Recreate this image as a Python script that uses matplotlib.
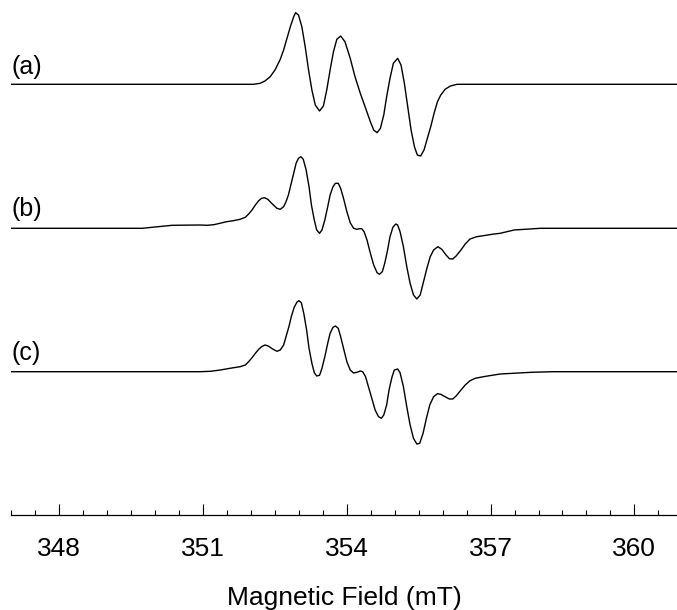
"""Stacked EPR spectra (a), (b), (c) against magnetic field."""

import matplotlib

matplotlib.use("Agg")
import matplotlib.pyplot as plt
from matplotlib.ticker import MultipleLocator

# Field in mT, signal in arbitrary units.
field_a = [347.0, 351.56, 352.05, 352.19, 352.29, 352.40, 352.50, 352.61, 352.68, 352.75,
           352.82, 352.89, 352.93, 352.99, 353.06, 353.13, 353.20, 353.27, 353.34, 353.43,
           353.51, 353.58, 353.65, 353.72, 353.79, 353.87, 353.96, 354.07, 354.17, 354.28,
           354.38, 354.49, 354.56, 354.63, 354.70, 354.77, 354.83, 354.90, 354.97, 355.06,
           355.13, 355.20, 355.27, 355.34, 355.41, 355.47, 355.54, 355.61, 355.68, 355.75,
           355.82, 355.89, 355.96, 356.05, 356.16, 356.30, 356.57, 360.9]
signal_a = [0, 0, 0, 1.0, 3.3, 7.6, 14.3, 25.0, 34.3, 46.0,
            57.6, 67.6, 71.6, 69.3, 57.6, 37.6, 14.3, -5.7, -20.7, -26.7,
            -21.7, -5.7, 14.3, 32.6, 45.0, 48.3, 42.6, 26.0, 7.6, -9.0,
            -22.4, -37.4, -45.7, -48.4, -44.0, -30.7, -12.4, 6.0, 21.0, 26.0,
            19.3, 1.0, -22.4, -45.7, -62.4, -70.7, -71.7, -65.7, -54.0, -42.4,
            -29.0, -17.4, -10.7, -5.0, -1.7, 0, 0, 0]

field_b = [347.0, 349.73, 350.35,
           350.94, 351.08, 351.22, 351.35, 351.49, 351.63, 351.77, 351.88, 351.95, 352.02,
           352.09, 352.16, 352.22, 352.28, 352.35, 352.43, 352.54, 352.61, 352.68, 352.73,
           352.78, 352.83, 352.89, 352.94, 352.99, 353.04, 353.09, 353.15, 353.21, 353.26,
           353.32, 353.37, 353.43, 353.48, 353.54, 353.60, 353.65, 353.71, 353.76, 353.82,
           353.87, 353.93, 354.00, 354.07, 354.14, 354.21, 354.26, 354.31, 354.36, 354.42,
           354.49, 354.56, 354.63, 354.68, 354.74, 354.79, 354.85, 354.90, 354.96, 355.02,
           355.06, 355.11, 355.18, 355.25, 355.32, 355.39, 355.46, 355.53, 355.60, 355.67,
           355.74, 355.81, 355.90, 355.98, 356.07, 356.14, 356.21, 356.28, 356.37, 356.47,
           356.57, 356.71, 356.85, 357.03, 357.20,
           357.49, 358.04, 360.9]
signal_b = [0, 0, 3.0,
            3.3, 3.0, 3.6, 5.0, 6.6, 7.6, 9.0, 11.0, 14.3, 18.3,
            23.3, 27.6, 30.0, 30.6, 29.0, 25.0, 20.0, 19.0, 21.6, 26.6,
            33.3, 43.3, 55.0, 65.0, 70.0, 71.6, 69.0, 58.3, 41.6, 23.3,
            8.3, -1.7, -5.0, -1.7, 8.3, 21.6, 33.3, 41.6, 45.0, 45.0,
            40.0, 30.0, 16.6, 5.6, 0.0, -1.0, -0.4, -0.4, -3.4, -11.7,
            -25.0, -36.7, -44.4, -46.0, -43.4, -35.0, -21.7, -8.4, 1.0, 4.3,
            3.3, -3.4, -18.4, -38.4, -55.0, -66.7, -70.7, -66.7, -53.4, -40.0,
            -28.4, -21.7, -18.4, -21.0, -26.7, -30.4, -30.7, -27.7, -22.4, -15.7,
            -10.7, -8.4, -7.4, -6.0, -5.0,
            -1.7, 0, 0]

field_c = [347.0, 350.69,
           350.94, 351.15, 351.36, 351.56, 351.77, 351.88, 351.95, 352.02, 352.09, 352.16,
           352.22, 352.29, 352.36, 352.45, 352.54, 352.61, 352.68, 352.73, 352.79, 352.84,
           352.90, 352.96, 353.00, 353.05, 353.10, 353.16, 353.21, 353.27, 353.32, 353.37,
           353.43, 353.48, 353.54, 353.60, 353.65, 353.71, 353.76, 353.82, 353.87, 353.93,
           354.00, 354.07, 354.14, 354.21, 354.28, 354.33, 354.39, 354.45, 354.52, 354.59,
           354.66, 354.72, 354.77, 354.83, 354.88, 354.94, 354.99, 355.06, 355.11, 355.18,
           355.25, 355.32, 355.39, 355.46, 355.52, 355.59, 355.66, 355.73, 355.81, 355.89,
           355.96, 356.05, 356.14, 356.21, 356.28, 356.37, 356.47, 356.57, 356.68, 356.85,
           357.03, 357.20,
           357.85, 358.3, 360.9]
signal_c = [0, 0,
            0.0, 0.4, 1.7, 3.4, 5.0, 6.7, 10.0, 14.0, 18.4, 22.4,
            25.0, 26.7, 25.7, 22.7, 20.4, 21.7, 26.7, 35.0, 45.0, 55.0,
            64.4, 69.7, 71.0, 69.0, 58.4, 41.7, 23.4, 8.4, -1.0, -4.3,
            -3.6, 3.4, 15.0, 28.4, 38.4, 44.4, 45.7, 43.4, 35.0, 23.4,
            10.0, 1.7, -1.3, -0.6, 0.7, 0.0, -5.0, -15.0, -26.6, -38.3,
            -45.0, -46.6, -43.3, -33.3, -18.3, -5.6, 1.7, 2.7, -1.0, -15.0,
            -35.0, -53.3, -66.6, -72.3, -71.6, -61.6, -46.6, -33.3, -25.0, -22.0,
            -22.6, -25.0, -27.3, -27.3, -24.3, -19.0, -13.3, -9.0, -6.6, -5.0,
            -3.6, -2.3,
            -0.6, 0, 0]

labels = ["(a)", "(b)", "(c)"]
offsets = [431.0, 287.0, 143.6]
label_heights = [448.0, 306.0, 162.0]
major_ticks = [348, 351, 354, 357, 360]

plt.rcParams["font.family"] = ["Liberation Sans", "DejaVu Sans"]

fig = plt.figure(figsize=(6.77, 6.10), dpi=100)
ax = fig.add_axes([11 / 677, 94.7 / 610, 666 / 677, 515.3 / 610])

traces = [(field_a, signal_a), (field_b, signal_b), (field_c, signal_c)]
for (x, y), off in zip(traces, offsets):
    ax.plot(x, [v + off for v in y], color="black", lw=1.0)

for lab, h in zip(labels, label_heights):
    ax.text(347.0, h, lab, fontsize=18, ha="left", va="center")

ax.set_xlim(346.99, 360.89)
ax.set_ylim(0, 515.3)
for side in ["left", "top", "right"]:
    ax.spines[side].set_visible(False)
ax.spines["bottom"].set_linewidth(0.9)
ax.set_yticks([])
ax.set_xticks(major_ticks)
ax.xaxis.set_minor_locator(MultipleLocator(0.5))
ax.tick_params(axis="x", which="major", direction="in", length=7.7, width=0.8,
               pad=15.5, labelsize=19)
ax.tick_params(axis="x", which="minor", direction="in", length=3.6, width=0.8)
ax.set_xlabel("Magnetic Field (mT)", fontsize=19, labelpad=18)

fig.savefig("out.png", dpi=100)
